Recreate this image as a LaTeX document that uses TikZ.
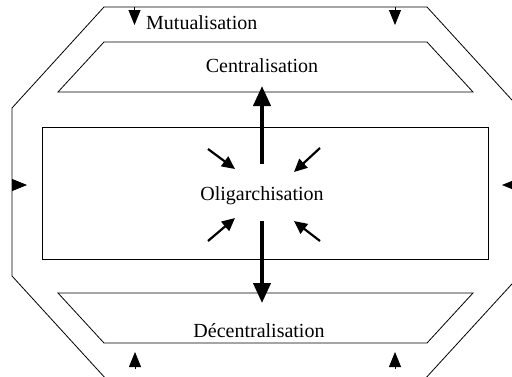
\documentclass[tikz,border=0pt]{standalone}
\usepackage{fontspec}
\setmainfont{Liberation Serif}
\usetikzlibrary{arrows.meta}
\usetikzlibrary{positioning}
\tikzset{%
  frame/.style = {draw,line width=0.8pt},
  box/.style = {rectangle,draw,line width=0.8pt,minimum width=446pt,
        minimum height=132pt},
  txt/.style = {inner sep=0pt,font=\fontsize{20}{24}\selectfont},
  thickarrow/.style = {-{Triangle[length=20pt,width=17pt]},line width=4pt},
  thinarrow/.style = {-{Triangle[length=13pt,width=12pt]},line width=2.2pt},
  sidearrow/.style = {-{Triangle[length=15pt,width=12pt]},line width=0.8pt}
}

\begin{document}
\begin{tikzpicture}[x=1pt,y=-1pt]
   \useasboundingbox (0,0) rectangle (512,376);
   \clip (0,0) rectangle (512,376);

   % outer frame and the two bands
   \draw[frame] (104,7) -- (427,7) -- (522,111) -- (522,273) -- (424,380)
      -- (107,380) -- (12,276) -- (12,108) -- cycle;
   \draw[frame] (104,42) -- (427,42) -- (473,92) -- (58,92) -- cycle;
   \draw[frame] (58,293) -- (473,293) -- (427,343) -- (104,343) -- cycle;
   \node[box] (olibox) at (265,193) {};

   \node[txt,anchor=base west] (mut) at (146,29) {Mutualisation};
   \node[txt,anchor=base] (cen) at (262,72) {Centralisation};
   \node[txt,anchor=base] (oli) at (262,200) {Oligarchisation};
   \node[txt,anchor=base] (dec) at (259,337) {Décentralisation};

   \coordinate (up-from) at (262,164);
   \coordinate (up-to) at (262,86);
   \coordinate (down-from) at (262,221);
   \coordinate (down-to) at (262,303);

   \coordinate (in-ul1) at (208,149);
   \coordinate (in-ul2) at (235,169);
   \coordinate (in-ur1) at (320,148);
   \coordinate (in-ur2) at (294,172);
   \coordinate (in-ll1) at (208,241);
   \coordinate (in-ll2) at (235,218);
   \coordinate (in-lr1) at (320,241);
   \coordinate (in-lr2) at (294,221);

   \coordinate (top-l1) at (134.5,7);
   \coordinate (top-l2) at (134.5,25);
   \coordinate (top-r1) at (395,7);
   \coordinate (top-r2) at (395,25);
   \coordinate (side-l1) at (12,185);
   \coordinate (side-l2) at (27,185);
   \coordinate (side-r1) at (519,185);
   \coordinate (side-r2) at (502,185);
   \coordinate (bot-l1) at (135,369);
   \coordinate (bot-l2) at (135,352);
   \coordinate (bot-r1) at (395,369);
   \coordinate (bot-r2) at (395,352);

   \draw[thickarrow] (up-from) -- (up-to);
   \draw[thickarrow] (down-from) -- (down-to);

   \draw[thinarrow] (in-ul1) -- (in-ul2);
   \draw[thinarrow] (in-ur1) -- (in-ur2);
   \draw[thinarrow] (in-ll1) -- (in-ll2);
   \draw[thinarrow] (in-lr1) -- (in-lr2);

   \draw[sidearrow] (top-l1) -- (top-l2);
   \draw[sidearrow] (top-r1) -- (top-r2);
   \draw[sidearrow] (side-l1) -- (side-l2);
   \draw[sidearrow] (side-r1) -- (side-r2);
   \draw[sidearrow] (bot-l1) -- (bot-l2);
   \draw[sidearrow] (bot-r1) -- (bot-r2);
\end{tikzpicture}
\end{document}
